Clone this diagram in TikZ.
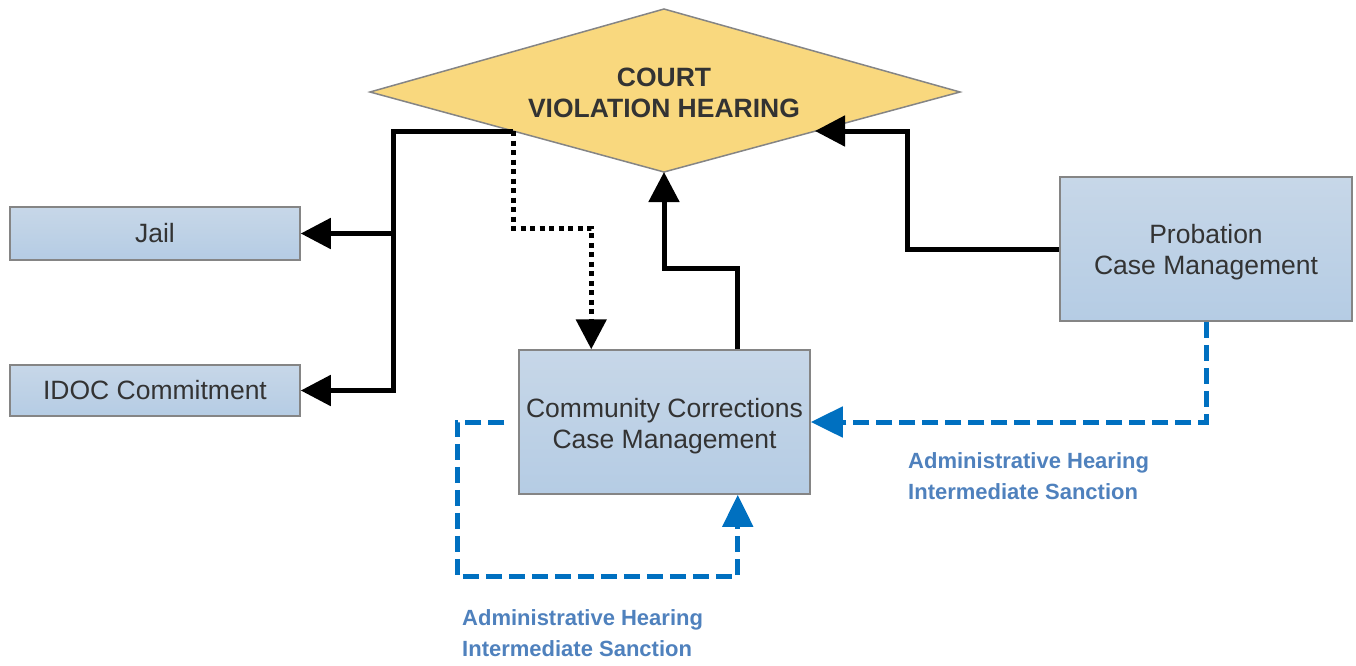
\documentclass[tikz,border=0pt]{standalone}
\usepackage{fontspec}
\setmainfont{Liberation Sans}
\usetikzlibrary{arrows.meta}
\definecolor{boxtop}{HTML}{C7D7E8}
\definecolor{boxbot}{HTML}{B5CCE4}
\definecolor{boxline}{HTML}{858585}
\definecolor{courtfill}{HTML}{F9D87E}
\definecolor{txt}{HTML}{333333}
\definecolor{dblue}{HTML}{0070C0}
\definecolor{lblue}{HTML}{4F81BD}
\begin{document}
\begin{tikzpicture}[x=1pt,y=-1pt,
  box/.style={draw=boxline,line width=1.5pt,top color=boxtop,bottom color=boxbot,inner sep=0pt},
  boxtext/.style={text=txt,font=\fontsize{26.5}{30.5}\selectfont,align=center,inner sep=0pt},
  conn/.style={line width=5pt,black,line join=miter,-{Triangle[length=30pt,width=30pt]}},
  dotconn/.style={conn,dash pattern=on 5pt off 4.5pt},
  bconn/.style={line width=5pt,dblue,dash pattern=on 16pt off 7pt,-{Triangle[length=32pt,width=30pt]}},
  lab/.style={text=lblue,font=\fontsize{22}{31}\selectfont\bfseries,align=left,inner sep=0pt,anchor=base west}
]
\useasboundingbox (0,0) rectangle (1356,665);
% diamond
\coordinate (dT) at (664,9);
\coordinate (dL) at (370,92);
\coordinate (dR) at (960,92);
\coordinate (dB) at (664,172);
\fill[courtfill,draw=boxline,line width=1.5pt] (dT) -- (dR) -- (dB) -- (dL) -- cycle;
\node (court) [text=txt,font=\fontsize{26.5}{31}\selectfont\bfseries,align=center,inner sep=0pt,anchor=base]
  at (664,117) {COURT\\VIOLATION HEARING};
\coordinate (cL) at (513,131);
\coordinate (cR) at (815,131);
% boxes
\node (jail) [box,minimum width=290pt,minimum height=53pt] at (155,233.5) {};
\node (jailt) [boxtext] at (jail.center) {Jail};
\node (idoc) [box,minimum width=290pt,minimum height=51pt] at (155,390.5) {};
\node (idoct) [boxtext] at (idoc.center) {IDOC Commitment};
\node (cc) [box,minimum width=291pt,minimum height=144pt] at (664.5,422) {};
\node (cct) [boxtext] at ([yshift=-4pt]cc.center) {Community Corrections\\Case Management};
\node (prob) [box,minimum width=292pt,minimum height=144pt] at (1206,249) {};
\node (probt) [boxtext] at ([yshift=-3pt]prob.center) {Probation\\Case Management};
% black connectors
\coordinate (jn) at (393,131);
\draw[conn] (cL) -- (jn) |- (jail.east);
\draw[conn] (jn) |- (idoc.east);
\draw[dotconn] (cL) -- ++(0,97) -| ([xshift=73pt]cc.north west);
\draw[conn] ([xshift=-73pt]cc.north east) |- (664,268) -- (dB);
\draw[conn] (prob.west) -| (907,131) -- (cR);
% blue dashed
\draw[bconn] (prob.south) |- (cc.east);
\draw[bconn] ([xshift=-14pt]cc.west) -| (457,576) -| ([xshift=-73pt]cc.south east);
% labels
\node (lab1) [lab] at (908,499) {Administrative Hearing\\Intermediate Sanction};
\node (lab2) [lab] at (462,656) {Administrative Hearing\\Intermediate Sanction};
\end{tikzpicture}
\end{document}
